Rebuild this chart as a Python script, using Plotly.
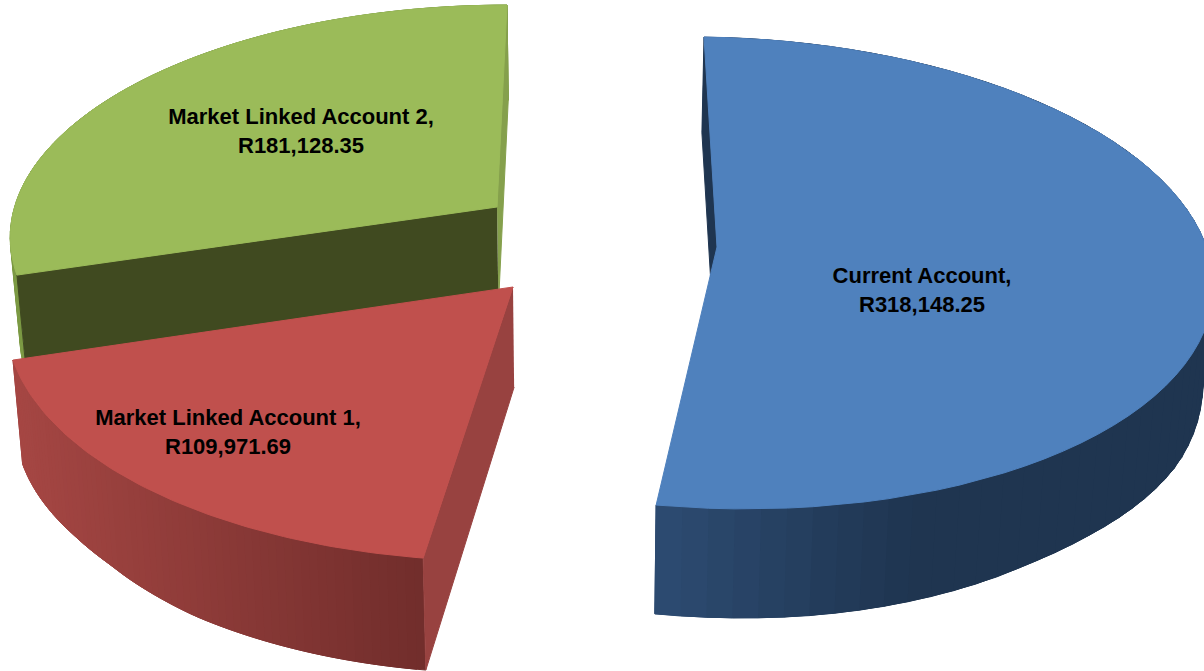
import numpy as np
import plotly.graph_objects as go

categories = ["Current Account", "Market Linked Account 1", "Market Linked Account 2"]
balances = [318148.25, 109971.69, 181128.35]
top_colours = ["#4F81BD", "#C0504D", "#9BBB59"]
first_slice_angle = -1.0

# perspective projection of each exploded slice (centre, plane terms); shared depth term k
DEPTH_K = 0.11
VIEWS = [
    dict(cx=717, cy=247, a=492.7, bx=5.8, ay=10.4, b=232.9),
    dict(cx=513, cy=287, a=501.7, bx=-19.1, ay=5.15, b=243.9),
    dict(cx=497, cy=207, a=481.3, bx=-19.5, ay=3.76, b=224.1),
]
WALLS = [((46, 77, 116), (31, 53, 80)), ((166, 71, 68), (114, 46, 44)), ((124, 154, 68), (124, 154, 68))]
WALL_SPAN = [(656, 930), (13, 423), (0, 600)]
BACK_FACE = ["#1F3550", None, "#85A04C"]
CUT_FACE = [None, "#984240", "#404A20"]
LABEL_AT = [(922, 292), (228, 434), (301, 133)]

VANISH_X = 580
DROP_Y = [0, 287, 360, 435, 463, 473, 507, 558]
DROP_H = [95, 100, 104, 101, 102, 104, 109, 112]


def project(view, theta):
    u, v = np.sin(theta), -np.cos(theta)
    d = 1 - DEPTH_K * v
    x = view["cx"] + (view["a"] * u + view["bx"] * v) / d
    y = view["cy"] + (view["ay"] * u + view["b"] * v) / d
    return x, y


def drop(x, y):
    return x + (VANISH_X - x) * 0.017, y + np.interp(y, DROP_Y, DROP_H)


def poly(fig, xs, ys, colour):
    fig.add_trace(go.Scatter(x=list(xs), y=list(ys), mode="lines", fill="toself", fillcolor=colour,
                             line=dict(color=colour, width=1), hoverinfo="skip", showlegend=False))


fig = go.Figure()
total = sum(balances)
edges = first_slice_angle + np.concatenate([[0], np.cumsum(balances)]) / total * 360
order = [2, 0, 1]

for i in order:
    view = VIEWS[i]
    t0, t1 = np.radians(edges[i]), np.radians(edges[i + 1])
    thetas = np.linspace(t0, t1, 70)
    ax, ay = project(view, thetas)
    lx, ly = drop(ax, ay)
    left, right = WALLS[i]
    xmin, xmax = WALL_SPAN[i]
    for j in range(len(thetas) - 1):
        f = np.clip((ax[j] - xmin) / (xmax - xmin), 0, 1)
        rgb = tuple(int(left[n] + (right[n] - left[n]) * f) for n in range(3))
        k = min(j + 2, len(thetas) - 1)
        poly(fig, [ax[j], ax[k], lx[k], lx[j]], [ay[j], ay[k], ly[k], ly[j]], "rgb(%d,%d,%d)" % rgb)
    px, py = view["cx"], view["cy"]
    pdx, pdy = drop(px, py)
    if BACK_FACE[i]:
        e = 0 if i == 0 else -1
        poly(fig, [px, ax[e], lx[e], pdx], [py, ay[e], ly[e], pdy], BACK_FACE[i])
    if CUT_FACE[i]:
        poly(fig, [px, ax[0], lx[0], pdx], [py, ay[0], ly[0], pdy], CUT_FACE[i])
    poly(fig, np.r_[px, ax, px], np.r_[py, ay, py], top_colours[i])

for i in order:
    fig.add_trace(go.Scatter(
        x=[LABEL_AT[i][0]], y=[LABEL_AT[i][1]], mode="text",
        text=[f"<b>{categories[i]},<br>R{balances[i]:,.2f}</b>"],
        textposition="middle center",
        textfont=dict(family="Liberation Sans, Arial, sans-serif", size=22, color="#000000"),
        hoverinfo="skip", showlegend=False))

fig.update_layout(
    width=1204, height=671, margin=dict(l=0, r=0, t=0, b=0),
    paper_bgcolor="white", plot_bgcolor="white", showlegend=False,
    xaxis=dict(range=[0, 1204], visible=False, fixedrange=True),
    yaxis=dict(range=[671, 0], visible=False, fixedrange=True),
)
fig.write_html("out.html", config={"displayModeBar": False},
               post_script="document.body.style.margin='0';document.body.style.overflow='hidden';")
